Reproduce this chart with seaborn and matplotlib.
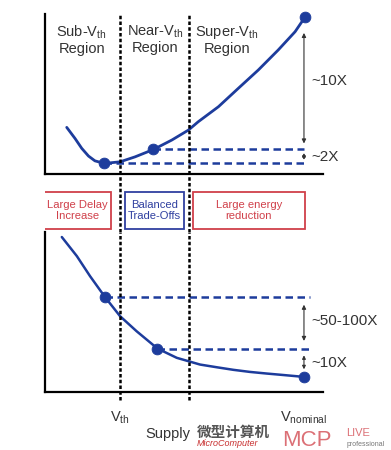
import numpy as np
import pandas as pd
import matplotlib
matplotlib.use("Agg")
import matplotlib.pyplot as plt
import seaborn as sns
from matplotlib.patches import Rectangle

# supply voltage markers (arbitrary volts)
v_th = 0.40
v_near = 0.625
v_nom = 1.00

# energy / operation curve (arbitrary units)
energy_v = [0.226, 0.253, 0.275, 0.297, 0.318, 0.349, 0.400, 0.449, 0.509, 0.569,
            0.623, 0.655, 0.721, 0.786, 0.851, 0.916, 0.971, 1.003]
energy = [29.2, 22.3, 16.1, 11.3, 8.3, 6.7, 7.7, 10.8, 15.4, 21.3,
          27.5, 32.7, 42.1, 53.6, 65.0, 77.5, 88.9, 97.9]
energy_pts_v = [0.349, 0.509, 1.003]
energy_pts = [6.7, 15.4, 97.9]

# log(delay) curve
delay_v = [0.210, 0.259, 0.302, 0.351, 0.400, 0.454, 0.522, 0.585, 0.623, 0.661,
           0.716, 0.770, 0.824, 0.878, 0.931, 1.000]
delay = [96.7, 84.8, 72.3, 59.2, 47.3, 37.9, 27.1, 21.3, 19.2, 17.1,
         15.4, 13.8, 12.5, 11.5, 10.6, 9.4]
delay_pts_v = [0.351, 0.522, 1.000]
delay_pts = [59.2, 27.1, 9.4]

region_labels = ["Sub-V$_{th}$\nRegion", "Near-V$_{th}$\nRegion", "Super-V$_{th}$\nRegion"]
box_labels = ["Large Delay\nIncrease", "Balanced\nTrade-Offs", "Large energy\nreduction"]
box_spans = [(0.152, 0.371), (0.416, 0.609), (0.638, 1.003)]
box_colors = ["#d0404a", "#3040a0", "#d0404a"]

sns.set_style("white")
plt.rcParams["font.family"] = ["Liberation Sans", "Noto Sans CJK SC", "DejaVu Sans"]
plt.rcParams["mathtext.fontset"] = "custom"
plt.rcParams["mathtext.rm"] = "Liberation Sans"
plt.rcParams["mathtext.default"] = "regular"

blue = "#1d3c9c"
grey = "#333333"
xlim = (0.155, 1.062)
vdash = (0, (1.4, 0.9))

df_e = pd.DataFrame({"v": energy_v, "e": energy})
df_ep = pd.DataFrame({"v": energy_pts_v, "e": energy_pts})
df_d = pd.DataFrame({"v": delay_v, "d": delay})
df_dp = pd.DataFrame({"v": delay_pts_v, "d": delay_pts})

fig = plt.figure(figsize=(3.91, 4.5), dpi=100)
ax1 = fig.add_axes([0.115, 0.613, 0.711, 0.356])
axm = fig.add_axes([0.115, 0.484, 0.711, 0.129])
ax2 = fig.add_axes([0.115, 0.129, 0.711, 0.356])

for ax in (ax1, ax2):
    ax.set_xlim(*xlim)
    ax.set_ylim(0, 100)
    for s in ("top", "right"):
        ax.spines[s].set_visible(False)
    for s in ("left", "bottom"):
        ax.spines[s].set_linewidth(1.6)
        ax.spines[s].set_color("black")
    ax.set_yticks([])
    ax.set_xticks([v_th, v_near, v_nom])
    ax.tick_params(axis="x", direction="inout", length=9, width=1.4, color="black")
    ax.set_facecolor("none")

# ---- top: energy
sns.lineplot(data=df_e, x="v", y="e", ax=ax1, color=blue, lw=2.0)
sns.scatterplot(data=df_ep, x="v", y="e", ax=ax1, color=blue, s=60, edgecolor=blue, zorder=5, clip_on=False)
for xv, yv in zip(energy_pts_v[:2], energy_pts[:2]):
    ax1.plot([xv, v_nom], [yv, yv], ls=(0, (3, 1.8)), color=blue, lw=1.8)
ax1.annotate("", xy=(v_nom, energy_pts[2] - 8), xytext=(v_nom, energy_pts[1] + 2),
             arrowprops=dict(arrowstyle="<|-|>", color=grey, lw=0.8, mutation_scale=6))
ax1.annotate("", xy=(v_nom, energy_pts[1] - 0.5), xytext=(v_nom, energy_pts[0] + 0.5),
             arrowprops=dict(arrowstyle="<|-|>", color=grey, lw=0.8, mutation_scale=5))
ax1.text(v_nom + 0.025, 58, "~10X", fontsize=11, color=grey, va="center")
ax1.text(v_nom + 0.025, 11, "~2X", fontsize=11, color=grey, va="center")
ax1.set_xticklabels([])
ax1.set_xlabel("")
ax1.set_ylabel("Energy/Operation", fontsize=10.5, color=grey, labelpad=9)
for lab, xc in zip(region_labels, [0.275, 0.513, 0.75]):
    ax1.text(xc, 94, lab, ha="center", va="top", fontsize=10.5, color=grey, linespacing=1.1)
ax1.axvline(v_th, ls=vdash, color="black", lw=1.8)
ax1.axvline(v_near, ls=vdash, color="black", lw=1.8)

# ---- middle: trade-off boxes
axm.set_xlim(*xlim)
axm.set_ylim(0, 1)
axm.axis("off")
for (x0, x1), lab, c in zip(box_spans, box_labels, box_colors):
    axm.add_patch(Rectangle((x0, 0.05), x1 - x0, 0.65, fill=False, edgecolor=c, lw=1.3))
    axm.text((x0 + x1) / 2, 0.375, lab, ha="center", va="center", fontsize=8.1, color=c, linespacing=1.15)
axm.axvline(v_th, ls=vdash, color="black", lw=1.8)
axm.axvline(v_near, ls=vdash, color="black", lw=1.8)

# ---- bottom: delay
sns.lineplot(data=df_d, x="v", y="d", ax=ax2, color=blue, lw=1.8)
sns.scatterplot(data=df_dp, x="v", y="d", ax=ax2, color=blue, s=60, edgecolor=blue, zorder=5, clip_on=False)
for xv, yv in zip(delay_pts_v[:2], delay_pts[:2]):
    ax2.plot([xv, 1.02], [yv, yv], ls=(0, (3, 1.8)), color=blue, lw=1.8)
ax2.annotate("", xy=(v_nom, delay_pts[0] - 3), xytext=(v_nom, delay_pts[1] + 3),
             arrowprops=dict(arrowstyle="<|-|>", color=grey, lw=0.8, mutation_scale=6))
ax2.annotate("", xy=(v_nom, delay_pts[1] - 2.5), xytext=(v_nom, delay_pts[2] + 3),
             arrowprops=dict(arrowstyle="<|-|>", color=grey, lw=0.8, mutation_scale=5))
ax2.text(v_nom + 0.025, 44, "~50-100X", fontsize=11, color=grey, va="center")
ax2.text(v_nom + 0.025, 18, "~10X", fontsize=11, color=grey, va="center")
ax2.set_xticklabels(["V$_{th}$", "", "V$_{nominal}$"], fontsize=10.5, color=grey)
ax2.tick_params(axis="x", pad=8)
ax2.set_ylabel("Log(delay)", fontsize=10.5, color=grey, labelpad=9)
ax2.set_xlabel("Supply", fontsize=10.5, color=grey)
ax2.xaxis.set_label_coords(0.442, -0.22)
ax2.axvline(v_th, ymin=-0.05, ymax=1.0, ls=vdash, color="black", lw=1.8, clip_on=False)
ax2.axvline(v_near, ymin=-0.05, ymax=1.0, ls=vdash, color="black", lw=1.8, clip_on=False)

# publisher watermark
fig.text(0.503, 0.03, "微型计算机", fontsize=10.5, color="#555555", fontweight="bold")
fig.text(0.503, 0.008, "MicroComputer", fontsize=6.5, color="#c83030", style="italic")
fig.text(0.722, 0.008, "MCP", fontsize=16, color="#d04048", alpha=0.75)
fig.text(0.885, 0.03, "LIVE", fontsize=8, color="#d04048", alpha=0.75)
fig.text(0.885, 0.008, "professional", fontsize=5, color="#777777")

fig.savefig("out.png", dpi=100)
